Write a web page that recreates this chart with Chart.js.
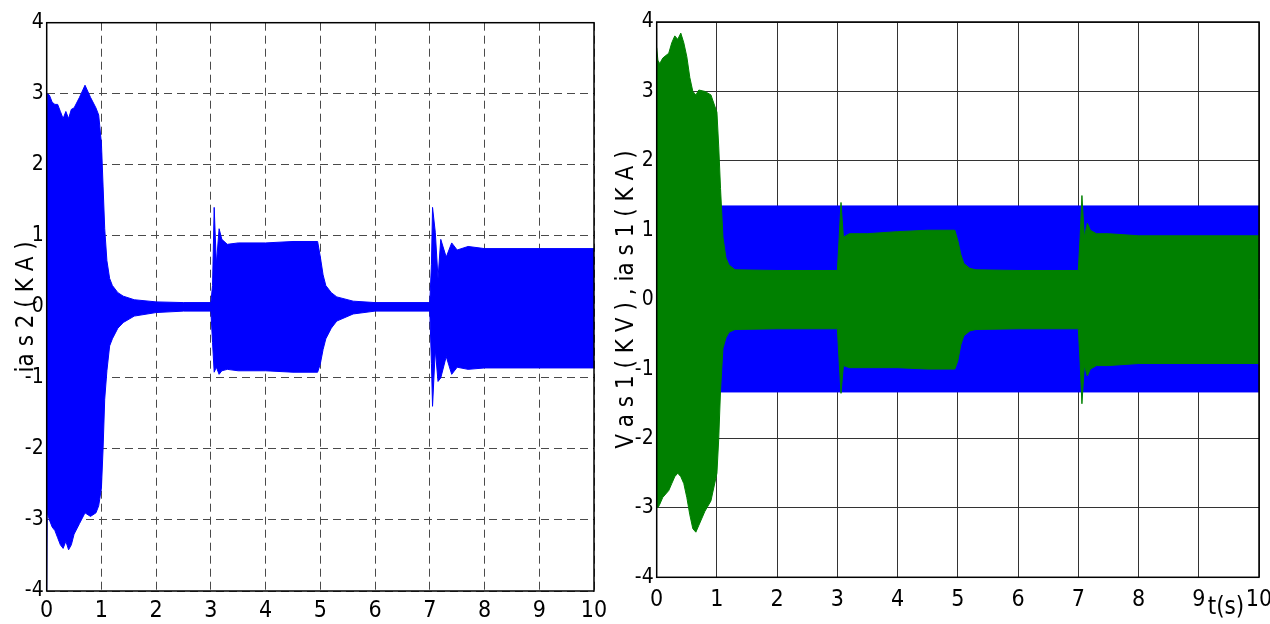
<!DOCTYPE html>
<html>
<head>
<meta charset="utf-8">
<script src="https://cdn.jsdelivr.net/npm/chart.js@4.4.1/dist/chart.umd.min.js"></script>
<style>
  body { margin: 0; background: #fff; overflow: hidden; }
  #left { position: absolute; left: 0; top: 0; }
  #right { position: absolute; left: 600px; top: 0; }
</style>
</head>
<body>
<canvas id="left" width="620" height="624"></canvas>
<canvas id="right" width="670" height="624"></canvas>
<script>
const tLeft = [0, 0.01, 0.05, 0.1, 0.15, 0.2, 0.25, 0.3, 0.35, 0.4, 0.45, 0.5, 0.6, 0.7, 0.8, 0.9, 0.95, 1.0, 1.03, 1.06, 1.1, 1.15, 1.2, 1.3, 1.4, 1.6, 2.0, 2.5, 3.0, 3.03, 3.06, 3.1, 3.15, 3.2, 3.3, 3.5, 4.0, 4.5, 4.95, 5.0, 5.05, 5.1, 5.2, 5.3, 5.6, 6.0, 7.0, 7.03, 7.05, 7.1, 7.15, 7.2, 7.3, 7.4, 7.5, 7.7, 8.0, 10];
const ias2Max = [2.5, 3.0, 2.98, 2.88, 2.85, 2.85, 2.75, 2.65, 2.75, 2.65, 2.78, 2.8, 2.95, 3.12, 2.95, 2.8, 2.7, 2.3, 1.7, 1.1, 0.65, 0.4, 0.3, 0.2, 0.15, 0.1, 0.07, 0.06, 0.06, 0.3, 1.4, 0.6, 1.1, 0.95, 0.88, 0.9, 0.9, 0.92, 0.92, 0.7, 0.45, 0.3, 0.2, 0.14, 0.08, 0.06, 0.06, 0.6, 1.4, 1.05, 0.4, 0.95, 0.7, 0.9, 0.8, 0.85, 0.82, 0.82];
const ias2Min = [-4, -2.9, -3.0, -3.1, -3.15, -3.25, -3.35, -3.4, -3.3, -3.42, -3.35, -3.2, -3.05, -2.9, -2.95, -2.9, -2.8, -2.55, -2.0, -1.3, -0.9, -0.55, -0.45, -0.3, -0.22, -0.13, -0.08, -0.06, -0.06, -0.5, -0.92, -0.85, -0.95, -0.9, -0.88, -0.9, -0.9, -0.92, -0.92, -0.8, -0.6, -0.45, -0.3, -0.2, -0.1, -0.06, -0.06, -0.8, -1.4, -0.6, -1.05, -1.0, -0.7, -0.95, -0.85, -0.88, -0.86, -0.86];

// figure de droite : Vas1 (KV) en vert, ias1 (KA) en bleu
const tRight = [0, 0.02, 0.05, 0.1, 0.2, 0.25, 0.3, 0.35, 0.4, 0.45, 0.5, 0.55, 0.6, 0.65, 0.7, 0.8, 0.9, 1.0, 1.03, 1.06, 1.1, 1.15, 1.2, 1.3, 2.0, 3.0, 3.03, 3.06, 3.1, 3.2, 3.5, 4.0, 4.5, 4.95, 5.0, 5.05, 5.1, 5.2, 5.3, 6.0, 7.0, 7.03, 7.06, 7.1, 7.15, 7.2, 7.3, 7.5, 8.0, 10];
const vas1Max = [3.63, 3.45, 3.4, 3.48, 3.55, 3.7, 3.8, 3.75, 3.84, 3.7, 3.5, 3.2, 3.0, 2.95, 3.02, 3.0, 2.95, 2.7, 2.2, 1.6, 0.9, 0.6, 0.5, 0.43, 0.42, 0.42, 0.9, 1.4, 0.9, 0.95, 0.95, 0.98, 1.0, 1.0, 0.85, 0.65, 0.52, 0.45, 0.43, 0.42, 0.42, 0.9, 1.5, 0.9, 1.1, 1.0, 0.95, 0.95, 0.92, 0.92];
const vas1Min = [-2.95, -3.0, -2.95, -2.85, -2.75, -2.65, -2.55, -2.5, -2.55, -2.65, -2.85, -3.1, -3.3, -3.35, -3.25, -3.05, -2.9, -2.5, -2.0, -1.3, -0.7, -0.55, -0.47, -0.43, -0.42, -0.42, -0.9, -1.35, -0.95, -0.98, -0.98, -0.98, -1.0, -1.0, -0.88, -0.65, -0.52, -0.45, -0.43, -0.42, -0.42, -0.9, -1.5, -0.95, -1.1, -1.0, -0.95, -0.95, -0.92, -0.92];
const tBand = [0, 10];
const ias1Max = [1.35, 1.35];
const ias1Min = [-1.33, -1.33];

const xTicks = [0, 1, 2, 3, 4, 5, 6, 7, 8, 9, 10];
const yTicks = [-4, -3, -2, -1, 0, 1, 2, 3, 4];

const narrow = "'Liberation Sans Narrow', 'DejaVu Sans Condensed', 'Roboto Condensed', sans-serif";

function pts(t, v) {
  return t.map((x, i) => ({ x: x, y: v[i] }));
}

function band(t, hi, lo, color) {
  return [
    { data: pts(t, hi), borderColor: color, backgroundColor: color, borderWidth: 1, pointRadius: 0, fill: '+1' },
    { data: pts(t, lo), borderColor: color, backgroundColor: color, borderWidth: 1, pointRadius: 0, fill: false }
  ];
}

// cadre noir autour de la zone de tracé
const framePlugin = {
  id: 'frame',
  afterDatasetsDraw(chart) {
    const a = chart.chartArea, ctx = chart.ctx;
    ctx.save();
    ctx.strokeStyle = '#000';
    ctx.lineWidth = 1.5;
    ctx.strokeRect(a.left, a.top, a.right - a.left, a.bottom - a.top);
    ctx.restore();
  }
};

const unitPlugin = {
  id: 'unit',
  afterDraw(chart, args, opts) {
    if (!opts.text) return;
    const a = chart.chartArea, ctx = chart.ctx;
    ctx.save();
    ctx.fillStyle = '#000';
    ctx.font = '24px ' + narrow;
    ctx.textAlign = 'center';
    ctx.textBaseline = 'middle';
    ctx.fillText(opts.text, a.right - 33, a.bottom + 30);
    ctx.restore();
  }
};

function makeChart(id, datasets, cfg) {
  new Chart(document.getElementById(id), {
    type: 'line',
    data: { datasets: datasets },
    plugins: [framePlugin, unitPlugin],
    options: {
      responsive: false,
      animation: false,
      layout: { padding: { left: 0, top: cfg.top, right: cfg.right, bottom: 0 } },
      plugins: {
        legend: { display: false },
        tooltip: { enabled: false },
        unit: { text: cfg.unit }
      },
      scales: {
        x: {
          type: 'linear', min: 0, max: 10,
          afterFit: s => { s.height = cfg.xh; s.paddingLeft = 0; s.paddingRight = 0; },
          afterBuildTicks: s => { s.ticks = xTicks.map(v => ({ value: v })); },
          ticks: { color: '#000', font: { family: narrow, size: 23 }, padding: cfg.xpad, maxRotation: 0 },
          grid: { color: cfg.grid, lineWidth: 1, drawTicks: false },
          border: { display: false, dash: cfg.dash }
        },
        y: {
          min: -4, max: 4,
          afterFit: s => { s.width = cfg.yw; s.paddingTop = 0; s.paddingBottom = 0; },
          afterBuildTicks: s => { s.ticks = yTicks.map(v => ({ value: v })); },
          ticks: { color: '#000', font: { family: narrow, size: 21 }, padding: 3 },
          grid: { color: cfg.grid, lineWidth: 1, drawTicks: false },
          border: { display: false, dash: cfg.dash },
          title: {
            display: true, text: cfg.ytitle, color: '#000',
            font: { family: narrow, size: 24 }, padding: { top: 12, bottom: 0 }
          }
        }
      }
    }
  });
}

makeChart('left', band(tLeft, ias2Max, ias2Min, '#0000ff'), {
  top: 22.7, right: 26, xh: 33, yw: 46.7, xpad: 6,
  grid: '#4a4a4a', dash: [8, 5],
  ytitle: 'ia s 2 ( K A )'
});

makeChart('right', band(tRight, vas1Max, vas1Min, '#008000').concat(band(tBand, ias1Max, ias1Min, '#0000ff')), {
  top: 22, right: 11, xh: 46.7, yw: 56.7, xpad: 9,
  grid: '#333333', dash: [],
  ytitle: 'V a s 1 ( K V ) , ia s 1 ( K A )',
  unit: 't(s)'
});
</script>
</body>
</html>
